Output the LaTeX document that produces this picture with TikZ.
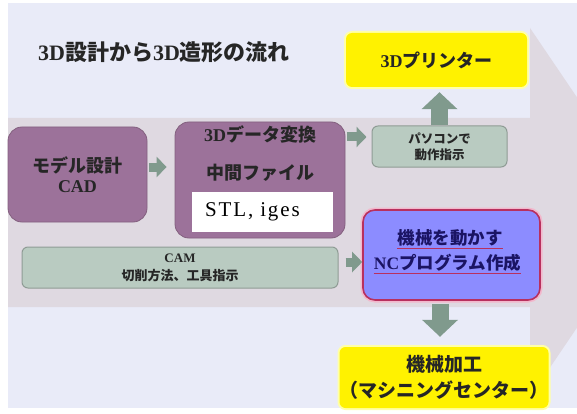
\documentclass[tikz,border=0pt]{standalone}
\usepackage{fontspec}
\setmainfont{Liberation Serif}
\newfontfamily\jpfont{Noto Sans CJK JP}
\newfontfamily\stlfont[LetterSpace=9]{Liberation Serif}
\usetikzlibrary{arrows.meta}
\definecolor{slidebg}{HTML}{E9EBF8}
\definecolor{bandgray}{HTML}{DFD9E1}
\definecolor{plum}{HTML}{9C729A}
\definecolor{plumline}{HTML}{83607F}
\definecolor{sage}{HTML}{B9CBC1}
\definecolor{sageline}{HTML}{8F9C95}
\definecolor{sagearrow}{HTML}{809A8D}
\definecolor{lilac}{HTML}{8C8CFF}
\definecolor{crimson}{HTML}{B8305E}
\definecolor{navy}{HTML}{1B1464}
\definecolor{ink}{HTML}{262626}
\definecolor{glowyellow}{HTML}{FFFFA8}
\definecolor{glowpink}{HTML}{F2B8CC}
\begin{document}
\begin{tikzpicture}[x=1pt,y=-1pt,
    plumbox/.style={draw=plumline,fill=plum,rounded corners=14pt,line width=0.8pt,inner sep=0pt,
      text=ink,align=center,font=\jpfont\bfseries\fontsize{18}{21}\selectfont},
    plumtext/.style={inner sep=0pt,text=ink,font=\jpfont\bfseries\fontsize{18}{21}\selectfont},
    sagebox/.style={draw=sageline,fill=sage,rounded corners=6pt,line width=1pt,inner sep=0pt,
      text=ink,align=center},
    yellowbox/.style={fill=yellow,rounded corners=6pt,inner sep=0pt,align=center,text=ink,
      preaction={draw=glowyellow,line width=4pt}},
    mechbox/.style={draw=crimson,fill=lilac,rounded corners=12pt,line width=1.6pt,inner sep=0pt,
      preaction={draw=glowpink,line width=5pt}},
    mechtext/.style={inner sep=0pt,text=navy,font=\jpfont\bfseries\fontsize{17.5}{21}\selectfont},
    ulline/.style={crimson,line width=1.4pt},
    stlbox/.style={fill=white,minimum width=141pt,minimum height=40pt,text width=115pt,
      inner xsep=13pt,inner ysep=0pt,align=left,font=\stlfont\fontsize{21}{24}\selectfont},
    smallarrow/.style={sagearrow,line width=9pt,-{Triangle[length=10pt,width=20pt]}},
    bigarrow/.style={sagearrow,line width=17pt,-{Triangle[length=17pt,width=35pt]}}]
  \useasboundingbox (0,0) rectangle (577,414);
  \fill[white] (0,0) rectangle (577,414);
  \fill[slidebg] (8,3) rectangle (577,408);
  \begin{scope}
    \clip (8,3) rectangle (577,408);
    \fill[bandgray] (8,118) -- (530,118) -- (530,28) -- (655,212.5) -- (530,397)
      -- (530,307) -- (8,307) -- cycle;
  \end{scope}

  \node[anchor=west,inner sep=0pt,text=ink,font=\bfseries\fontsize{22}{26}\selectfont] (title)
    at (38,52) {3D\jpfont 設計から\rmfamily 3D\jpfont 造形の流れ};

  \node[yellowbox,minimum width=181pt,minimum height=54pt,font=\bfseries\fontsize{18}{21}\selectfont]
    (printer) at (436.5,60) {3D\jpfont プリンター};
  \node[plumbox,minimum width=139pt,minimum height=95pt] (model) at (77.5,174.5)
    {モデル設計\\[-1pt]{\rmfamily CAD}};
  \node[plumbox,minimum width=170pt,minimum height=116pt] (convert) at (260,180) {};
  \node[plumtext] (convA) at (260,134) {{\rmfamily 3D}データ変換};
  \node[plumtext] (convB) at (260,173) {中間ファイル};
  \node[stlbox] (stl) at (262.5,212) {STL, iges};
  \node[sagebox,minimum width=135pt,minimum height=41pt,
    font=\jpfont\bfseries\fontsize{12.5}{16}\selectfont] (pc) at (439.5,146.5) {パソコンで\\動作指示};
  \node[sagebox,minimum width=316pt,minimum height=41pt,
    font=\jpfont\bfseries\fontsize{13}{18}\selectfont] (cam) at (180,267.5)
    {{\rmfamily CAM}\\切削方法、工具指示};
  \node[mechbox,minimum width=177pt,minimum height=90pt] (nc) at (451.5,255) {};
  \node[mechtext] (ncA) at (450,238) {機械を動かす};
  \node[mechtext] (ncB) at (447.5,263) {{\rmfamily NC}プログラム作成};
  \draw[ulline] ([yshift=-4pt]ncA.base west) -- ([yshift=-4pt]ncA.base east);
  \draw[ulline] ([yshift=-4pt]ncB.base west) -- ([yshift=-4pt]ncB.base east);
  \node[yellowbox,minimum width=198pt,minimum height=61pt,
    font=\jpfont\bfseries\fontsize{19}{26}\selectfont] (mc) at (444,377.5)
    {機械加工\\（マシニングセンター）};

  \coordinate (a1) at ([yshift=7.5pt]model.east);
  \coordinate (a2) at ([yshift=9.5pt]pc.west);
  \coordinate (a3) at ([yshift=5.5pt]cam.east);
  \coordinate (d1) at ([xshift=-11.5pt]nc.south);
  \draw[smallarrow,shorten <=2pt,shorten >=8pt] (a1) -- (a1 -| convert.west);
  \draw[smallarrow,shorten <=2pt,shorten >=5pt] (a2 -| convert.east) -- (a2);
  \draw[smallarrow,shorten <=7pt] (a3) -- (a3 -| nc.west);
  \draw[bigarrow,shorten >=5pt] (pc.north) -- (pc.north |- printer.south);
  \draw[bigarrow,shorten <=3pt,shorten >=10pt] (d1) -- (d1 |- mc.north);
\end{tikzpicture}
\end{document}
